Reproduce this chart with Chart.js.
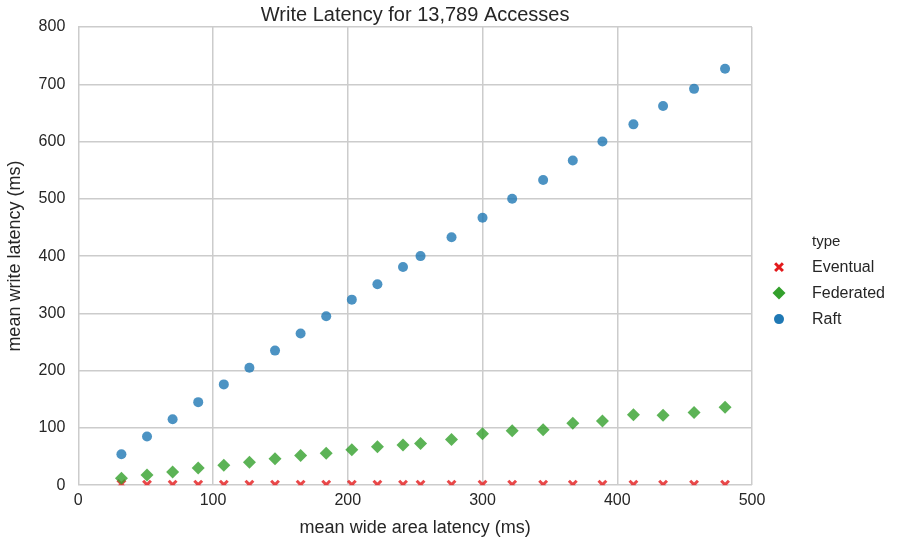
<!DOCTYPE html>
<html>
<head>
<meta charset="utf-8">
<script src="https://cdn.jsdelivr.net/npm/chart.js@4.4.0/dist/chart.umd.min.js"></script>
<style>
  html, body { margin: 0; padding: 0; background: #fff; }
  #wrap { width: 898px; height: 542px; }
</style>
</head>
<body>
<div id="wrap"><canvas id="latencyChart"></canvas></div>
<script>
// mean wide area latency (ms), shared by all three series
const wideArea = [32, 51, 70, 89, 108, 127, 146, 165, 184, 203, 222, 241, 254, 277, 300, 322, 345, 367, 389, 412, 434, 457, 480];
const eventual = [2, 1, 1, 1, 1, 1, 1, 1, 1, 1, 1, 1, 1, 1, 1, 1, 1, 1, 1, 1, 1, 1, 1];
const federated = [12, 18, 23, 30, 35, 40, 46, 52, 56, 62, 67, 70, 73, 80, 90, 95, 97, 108, 112, 123, 122, 127, 136];
const raft = [54, 85, 115, 145, 176, 205, 235, 265, 295, 324, 351, 381, 400, 433, 467, 500, 533, 567, 600, 630, 662, 692, 727];

const seriesNames = ['Eventual', 'Federated', 'Raft'];
const legendTitle = 'type';
const solidColors = ['#e31a1c', '#33a02c', '#1f78b4'];
const pointColors = ['rgba(227,26,28,0.8)', 'rgba(51,160,44,0.8)', 'rgba(31,120,180,0.8)'];

const textColor = '#262626';
const gridColor = '#cccccc';
const font = 'Liberation Sans, Arial, sans-serif';

const toPoints = ys => ys.map((y, i) => ({ x: wideArea[i], y: y }));

// legend drawn by hand in the space kept free on the right
const sideLegend = {
  id: 'sideLegend',
  afterDraw(chart) {
    const ctx = chart.ctx;
    const area = chart.chartArea;
    const markX = area.right + 27;
    const textX = area.right + 60;
    const top = (area.top + area.bottom) / 2 - 15;
    ctx.save();
    ctx.textBaseline = 'middle';
    ctx.textAlign = 'left';
    ctx.fillStyle = textColor;
    ctx.font = '15px ' + font;
    ctx.fillText(legendTitle, textX, top + 1);
    chart.data.datasets.forEach((ds, i) => {
      const y = top + 26 + i * 26;
      ctx.fillStyle = solidColors[i];
      ctx.strokeStyle = solidColors[i];
      ctx.lineWidth = ds.pointBorderWidth;
      Chart.helpers.drawPoint(ctx, {
        pointStyle: ds.pointStyle,
        radius: ds.legendRadius,
        borderWidth: ds.pointBorderWidth,
        rotation: 0
      }, markX, y);
      ctx.fillStyle = textColor;
      ctx.font = '16px ' + font;
      ctx.fillText(ds.label, textX, y);
    });
    ctx.restore();
  }
};

const latCtx = document.getElementById('latencyChart');
new Chart(latCtx, {
  type: 'scatter',
  data: {
    datasets: [
      {
        label: seriesNames[0],
        data: toPoints(eventual),
        pointStyle: 'crossRot',
        pointRadius: 5.5,
        legendRadius: 5.5,
        pointBorderWidth: 3,
        pointBorderColor: pointColors[0],
        pointBackgroundColor: pointColors[0],
        clip: 0,
        order: 3
      },
      {
        label: seriesNames[1],
        data: toPoints(federated),
        pointStyle: 'rectRot',
        pointRadius: 6.5,
        legendRadius: 6.5,
        pointBorderWidth: 0,
        pointBackgroundColor: pointColors[1],
        order: 2
      },
      {
        label: seriesNames[2],
        data: toPoints(raft),
        pointStyle: 'circle',
        pointRadius: 5,
        legendRadius: 5,
        pointBorderWidth: 0,
        pointBackgroundColor: pointColors[2],
        order: 1
      }
    ]
  },
  options: {
    responsive: true,
    maintainAspectRatio: false,
    animation: false,
    layout: { padding: { left: 4, right: 146, top: 0, bottom: 3 } },
    plugins: {
      title: {
        display: true,
        text: 'Write Latency for 13,789 Accesses',
        fullSize: false,
        color: textColor,
        font: { family: font, size: 20, weight: 'normal' },
        padding: { top: 3, bottom: 0 }
      },
      legend: { display: false },
      tooltip: { enabled: false }
    },
    scales: {
      x: {
        type: 'linear',
        min: 0,
        max: 500,
        ticks: { stepSize: 100, color: textColor, padding: 6, font: { family: font, size: 16 } },
        grid: { color: gridColor, lineWidth: 1.5, drawTicks: false },
        border: { display: false },
        title: {
          display: true,
          text: 'mean wide area latency (ms)',
          color: textColor,
          font: { family: font, size: 18 },
          padding: { top: 1, bottom: 0 }
        }
      },
      y: {
        type: 'linear',
        min: 0,
        max: 800,
        ticks: { stepSize: 100, color: textColor, padding: 13, font: { family: font, size: 16 } },
        grid: { color: gridColor, lineWidth: 1.5, drawTicks: false },
        border: { display: false },
        title: {
          display: true,
          text: 'mean write latency (ms)',
          color: textColor,
          font: { family: font, size: 18 },
          padding: { top: 0, bottom: 0 }
        }
      }
    }
  },
  plugins: [sideLegend]
});
</script>
</body>
</html>
